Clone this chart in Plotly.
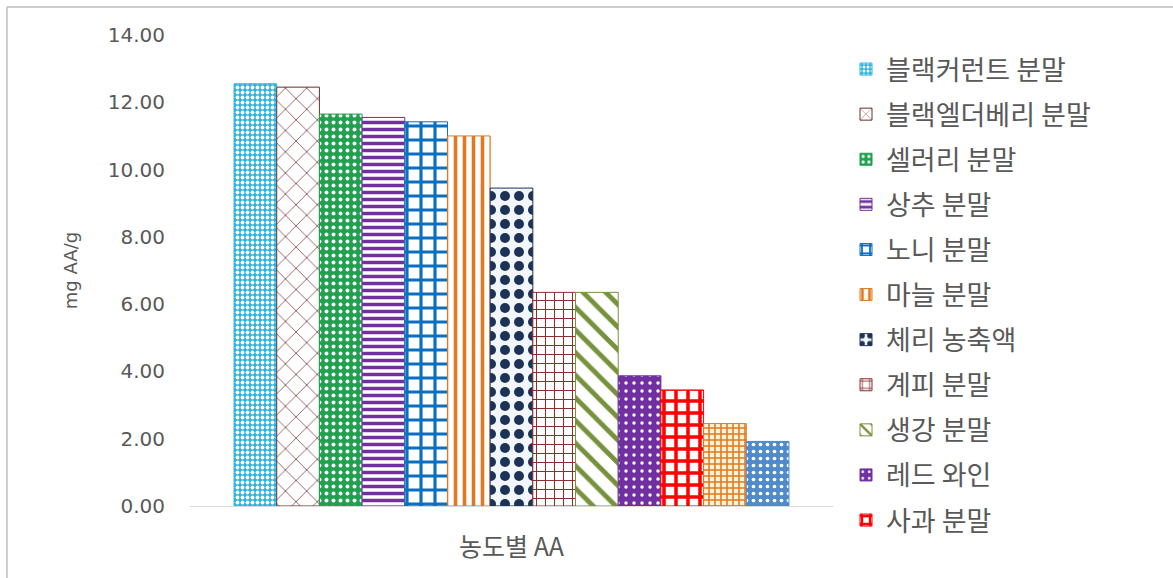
import plotly.graph_objects as go

# Antioxidant capacity (mg AA/g) by sample
category = ["농도별 AA"]
samples = [
    "블랙커런트 분말", "블랙엘더베리 분말", "셀러리 분말", "상추 분말", "노니 분말",
    "마늘 분말", "체리 농축액", "계피 분말", "생강 분말", "레드 와인", "사과 분말",
    "", "",
]
values = [12.55, 12.45, 11.65, 11.55, 11.42, 11.0, 9.45, 6.35, 6.35, 3.87, 3.45, 2.45, 1.92]
in_legend = [True] * 11 + [False, False]

# fill pattern per sample: (shape, fgcolor, bgcolor, size, solidity, outline)
patterns = [
    (".", "#FFFFFF", "#2DB3DE", 5, 0.45, "#2DB3DE"),
    ("x", "#7B3B3B", "#FFFFFF", 15, 0.10, "#6B3030"),
    (".", "#FFFFFF", "#1FA14E", 7, 0.25, "#1FA14E"),
    ("-", "#7030A0", "#FFFFFF", 7, 0.50, "#7030A0"),
    ("+", "#0A6FC0", "#FFFFFF", 14, 0.40, "#0A6FC0"),
    ("|", "#E07A22", "#FFFFFF", 9, 0.40, "#E07A22"),
    (".", "#1C3357", "#F2F6FA", 14, 0.40, "#1C3357"),
    ("+", "#8B2E2E", "#FFFFFF", 9, 0.22, "#8B2E2E"),
    ("\\", "#76923C", "#FFFFFF", 16, 0.30, "#76923C"),
    (".", "#FFFFFF", "#7030A0", 8, 0.15, "#7030A0"),
    ("+", "#FF0000", "#FFFFFF", 12, 0.50, "#FF0000"),
    ("+", "#E07A22", "#FFF3D6", 6, 0.45, "#E07A22"),
    (".", "#FFFFFF", "#4F8ACB", 7, 0.22, "#4F8ACB"),
]

fig = go.Figure()
for i, (name, val) in enumerate(zip(samples, values)):
    shape, fg, bg, size, sol, edge = patterns[i]
    fig.add_trace(go.Bar(
        x=category, y=[val], name=name,
        showlegend=in_legend[i],
        legendgroup=f"g{i}",
        marker=dict(
            color=bg,
            line=dict(color=edge, width=1),
            pattern=dict(shape=shape, fgcolor=fg, bgcolor=bg, size=size,
                         solidity=sol, fillmode="replace"),
        ),
    ))

fig.update_layout(
    width=1173, height=578,
    margin=dict(l=190, r=340, t=35, b=72),
    paper_bgcolor="#FFFFFF", plot_bgcolor="#FFFFFF",
    barmode="group", bargap=0.137, bargroupgap=0,
    font=dict(family="Noto Sans CJK KR, Noto Sans, sans-serif", color="#595959"),
    showlegend=True,
    legend=dict(
        xref="container", yref="container",
        x=846 / 1173, y=1 - 45 / 578, xanchor="left", yanchor="top",
        font=dict(size=27, color="#595959"),
        tracegroupgap=7, itemwidth=30, maxheight=570,
        bgcolor="rgba(0,0,0,0)",
    ),
    xaxis=dict(
        showgrid=False, showline=True, linecolor="#D9D9D9", linewidth=1,
        ticks="", tickfont=dict(size=25, color="#595959"),
        ticklabelstandoff=19,
    ),
    yaxis=dict(
        range=[0, 14], dtick=2, tickformat=".2f",
        showgrid=False, showline=False, zeroline=False, ticks="",
        tickfont=dict(family="DejaVu Sans, sans-serif", size=20, color="#595959"),
        ticklabelstandoff=24,
        title=dict(text="mg AA/g", font=dict(family="DejaVu Sans, sans-serif",
                                              size=18, color="#595959"),
                   standoff=25),
    ),
)

# chart frame (top and left edges)
fig.add_shape(type="line", xref="paper", yref="paper",
              x0=(7 - 190) / 643, x1=(1180 - 190) / 643,
              y0=(578 - 72 - 7) / 471, y1=(578 - 72 - 7) / 471,
              line=dict(color="#BFBFBF", width=1.5))
fig.add_shape(type="line", xref="paper", yref="paper",
              x0=(7 - 190) / 643, x1=(7 - 190) / 643,
              y0=(578 - 72 - 7) / 471, y1=-(80) / 471,
              line=dict(color="#BFBFBF", width=1.5))

fig.write_html("out.html")
